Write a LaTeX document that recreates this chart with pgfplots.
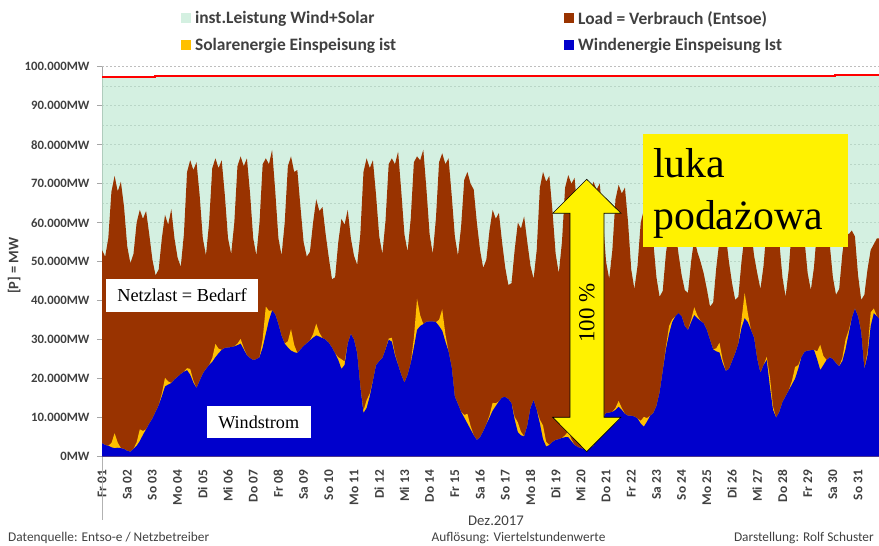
\documentclass[border=0pt]{standalone}
\usepackage{fontspec}
\setmainfont{Carlito}
\newfontfamily\tnr{Liberation Serif}
\usepackage{pgfplots}
\usepackage{pgfplotstable}
\pgfplotsset{compat=1.18}
\definecolor{mint}{RGB}{183,230,205}
\definecolor{loadbrown}{RGB}{153,51,0}
\definecolor{solaryel}{RGB}{255,192,0}
\definecolor{windblue}{RGB}{0,0,204}
\definecolor{gridgray}{RGB}{190,190,190}
\definecolor{txtgray}{RGB}{64,64,64}

% 3-hourly values (0,3,6,...,21 h) for 1..31 Dec 2017
\pgfplotstableread{
load wind solar
53000 3500 0
51300 3000 0
56000 2800 0
68000 2400 1100
72000 2200 3800
68000 2300 1300
70500 2200 0
64000 2000 0
54000 1500 0
49600 1300 0
52000 2000 0
60000 2800 900
63300 4000 3000
61000 5600 1000
63000 7000 0
57000 8500 0
50500 9800 0
46500 11500 0
48000 13200 0
56000 15500 700
62000 18000 2200
59500 18500 800
63500 18900 0
56000 19800 0
51000 20500 0
48700 21200 0
57000 21800 0
73000 22200 500
76000 21000 1500
73500 19000 500
75500 17600 0
67000 19500 0
56000 21300 0
51600 22500 0
60000 23500 0
74000 24300 1000
76500 25500 3400
74000 26500 1200
76000 27400 0
67000 27900 0
56000 28000 0
52000 28100 0
60000 28300 0
74500 28600 400
77000 29000 1200
74500 27500 400
76500 26000 0
67500 25300 0
56000 24800 0
51600 25000 0
60000 25500 0
75000 28000 2100
76500 31500 7000
75000 35000 2400
78700 37500 0
68000 36500 0
56000 34000 0
51600 31000 0
60000 29000 0
74500 28000 1600
77000 27200 5500
73000 26800 1900
73500 26600 0
64000 27500 0
55000 28400 0
51300 29100 0
52500 29800 0
60000 30500 900
66000 31100 3000
63000 30800 1000
64000 30400 0
57000 30000 0
51000 29200 0
45500 28000 0
46000 26500 0
55000 24800 700
61000 22500 2500
59500 23500 900
63300 29000 0
56000 31500 0
51500 30000 0
49200 26500 0
57000 18000 0
73000 11200 600
76500 12500 2000
74000 15500 700
76000 19500 0
67000 23500 0
56500 24500 0
52000 25300 0
60500 27500 0
75000 30000 300
76500 29500 1000
75000 26000 350
78200 23500 0
68000 21000 0
57000 19000 0
52600 21000 0
61000 24000 0
75500 28000 2400
77000 32500 8000
76000 33500 2800
78700 34000 0
68500 34600 0
57000 34700 0
52000 34700 0
61000 34500 0
75500 33500 1600
77800 32300 5500
75000 29500 1900
76500 27000 0
67000 23000 0
56500 15400 0
51500 13500 0
59000 11500 0
71000 10000 700
73000 8500 2500
70000 7000 900
68500 5500 0
60000 4300 0
53000 5000 0
48400 6500 0
50500 8300 0
58000 10000 600
63300 11800 2000
61000 13000 700
62500 14200 0
55000 15200 0
48500 15300 0
44000 14800 0
44500 13700 0
53000 9500 700
60000 6300 2500
58500 5500 900
61600 5200 0
55000 8000 0
49000 12500 0
45600 14500 0
53000 12000 0
69000 8500 1000
73000 4500 3500
70500 2600 1200
72000 3000 0
63000 3800 0
52000 4300 0
47000 4500 0
55000 4800 0
69000 5000 500
72200 5000 1500
70000 4000 500
71500 3000 0
62500 2500 0
52000 2200 0
47000 2000 0
54000 2000 0
68000 2300 300
70500 2800 1000
68500 4500 350
70000 7500 0
61000 10000 0
50000 11200 0
45600 11300 0
53000 11500 0
66000 12000 500
69700 12800 1500
67500 12000 500
69000 11000 0
60000 10500 0
48000 10500 0
43000 10300 0
49000 9800 0
60000 8500 700
63300 7700 2500
61000 9000 900
62000 10500 0
55000 11200 0
46000 13000 0
41000 16500 0
42500 22000 0
52000 27500 600
58000 31500 2000
56000 34500 700
58500 36000 0
52000 36800 0
46500 36000 0
42700 33500 0
42000 32500 0
50000 34500 600
56000 36300 2000
52500 35500 700
50000 34800 0
47000 34200 0
43000 32500 0
38500 30000 0
39500 27500 0
48500 27000 800
55500 26700 2500
54000 24000 900
57000 22000 0
50000 22500 0
44500 24500 0
40200 26500 0
41000 29000 0
50000 33000 2000
57000 35500 6500
55500 34500 2300
58500 32500 0
51500 30500 0
47000 25000 0
43000 21500 0
49000 23500 0
59000 24800 800
63000 18000 2500
61000 12000 900
63000 10000 0
55000 11500 0
46000 14000 0
41000 15500 0
48000 17000 0
59000 18500 900
63500 20000 3000
61500 22500 1000
63500 25500 0
55500 26900 0
47000 27200 0
42700 27300 0
48500 27400 0
58500 25000 2000
62500 22200 6500
60500 23500 2300
62000 24800 0
54500 25500 0
46000 25000 0
41500 24000 0
43000 23200 0
52000 24500 800
58000 27500 2500
57000 31500 900
58000 35500 0
56500 38000 0
46500 36000 0
40200 32000 0
41500 22500 0
48000 26000 1000
53000 33500 3500
54500 36800 1200
56000 36000 0
56000 35000 0
}\data

\begin{document}
\begin{tikzpicture}
\path[use as bounding box] (0,0) rectangle (879bp,546bp);
\begin{axis}[
  at={(102bp,89.3bp)}, anchor=south west,
  scale only axis, width=777bp, height=390bp,
  xmin=1, xmax=31.83, ymin=0, ymax=100000,
  axis lines*=left,
  axis line style={draw=gray!70, line width=0.6bp},
  ytick={0,10000,...,100000},
  yticklabels={0MW,10.000MW,20.000MW,30.000MW,40.000MW,50.000MW,60.000MW,70.000MW,80.000MW,90.000MW,100.000MW},
  scaled y ticks=false,
  minor y tick num=1,
  ymajorgrids, yminorgrids,
  major grid style={draw=gridgray, dash pattern=on 2bp off 2bp, line width=0.5bp},
  minor grid style={draw=gridgray, dash pattern=on 2bp off 2bp, line width=0.5bp},
  tick align=outside,
  ytick style={draw=gray!70, line width=0.6bp},
  major tick length=5bp, minor tick length=0pt,
  yticklabel style={font=\bfseries\fontsize{12.8}{15}\selectfont, text=txtgray},
  yticklabel shift=4bp,
  xtick={1,...,31},
  xticklabels={Fr 01,Sa 02,So 03,Mo 04,Di 05,Mi 06,Do 07,Fr 08,Sa 09,So 10,Mo 11,Di 12,Mi 13,Do 14,Fr 15,Sa 16,So 17,Mo 18,Di 19,Mi 20,Do 21,Fr 22,Sa 23,So 24,Mo 25,Di 26,Mi 27,Do 28,Fr 29,Sa 30,So 31},
  xtick style={draw=none},
  xticklabel style={rotate=90, anchor=east, font=\bfseries\fontsize{13.4}{15}\selectfont, text=txtgray},
  xticklabel shift=5bp,
  ylabel={[P] = MW},
  ylabel style={at={(axis description cs:-0.113,0.49)}, anchor=center, font=\bfseries\fontsize{14.5}{17}\selectfont, text=txtgray},
  legend columns=2,
  legend image code/.code={\fill[#1] (0bp,-5bp) rectangle (10bp,5bp); \path (13bp,0bp);},
  legend style={at={(axis description cs:0.097,1.152)}, anchor=north west, draw=none, fill=none,
    font=\bfseries\fontsize{17.5}{20}\selectfont, text=txtgray, row sep=10bp,
    nodes={inner sep=1.5bp},
    /tikz/every even column/.append style={column sep=166bp}},
  legend cell align=left,
]
\addplot[fill=mint, fill opacity=0.6, draw=none] coordinates {(1,97400) (3.1,97400) (3.1,97700) (30.1,97700) (30.1,97950) (31.9,97950)} \closedcycle;
\addlegendentry{inst.Leistung Wind+Solar}
\addplot[red, line width=2bp, forget plot] coordinates {(1,97400) (3.1,97400) (3.1,97700) (30.1,97700) (30.1,97950) (31.9,97950)};
\addplot[fill=loadbrown, draw=none] table[x expr=1+\coordindex/8, y=load] {\data} \closedcycle;
\addlegendentry{Load =  Verbrauch (Entsoe)}
\addplot[fill=solaryel, draw=none] table[x expr=1+\coordindex/8, y expr=\thisrow{wind}+\thisrow{solar}] {\data} \closedcycle;
\addlegendentry{Solarenergie Einspeisung ist}
\addplot[fill=windblue, draw=none] table[x expr=1+\coordindex/8, y=wind] {\data} \closedcycle;
\addlegendentry{Windenergie Einspeisung Ist}
\end{axis}
% extension of the left axis line below the plot
\draw[gray!60, line width=0.6bp] (102bp,26bp) -- (102bp,89.3bp);
% annotations
\node[fill=white, minimum width=152bp, minimum height=33bp, inner sep=0pt, font=\tnr\fontsize{18.4}{22}\selectfont] at (182bp,250.5bp) {Netzlast = Bedarf};
\node[fill=white, minimum width=104bp, minimum height=32bp, inner sep=0pt, font=\tnr\fontsize{18.2}{22}\selectfont] at (258.7bp,124bp) {Windstrom};
\fill[yellow] (643bp,299bp) rectangle (848bp,412bp);
\node[anchor=base west, inner sep=0pt, font=\tnr\fontsize{42}{48}\selectfont] at (653bp,368bp) {luka};
\node[anchor=base west, inner sep=0pt, font=\tnr\fontsize{42}{48}\selectfont] at (653bp,316bp) {podażowa};
\draw[fill=yellow, draw=black, line width=0.6bp, line join=miter]
  (586.7bp,366.7bp) -- (621bp,332.7bp) -- (604bp,332.7bp) -- (604bp,128.7bp) -- (621bp,128.7bp)
  -- (586.7bp,94.3bp) -- (552.7bp,128.7bp) -- (570bp,128.7bp) -- (570bp,332.7bp) -- (552.7bp,332.7bp) -- cycle;
\node[rotate=90, inner sep=0pt, font=\tnr\fontsize{23}{27}\selectfont] at (587bp,233bp) {100 \%};
% footer
\node[anchor=base, inner sep=0pt, font=\fontsize{14.8}{17}\selectfont, text=txtgray] at (496bp,21bp) {Dez.2017};
\node[anchor=base west, inner sep=0pt, font=\fontsize{13.4}{16}\selectfont, text=txtgray] at (8bp,5bp) {Datenquelle:  Entso-e  / Netzbetreiber};
\node[anchor=base, inner sep=0pt, font=\fontsize{13.4}{16}\selectfont, text=txtgray] at (518.5bp,5bp) {Auflösung: Viertelstundenwerte};
\node[anchor=base east, inner sep=0pt, font=\fontsize{13.4}{16}\selectfont, text=txtgray] at (874bp,5bp) {Darstellung: Rolf Schuster};
\end{tikzpicture}
\end{document}
